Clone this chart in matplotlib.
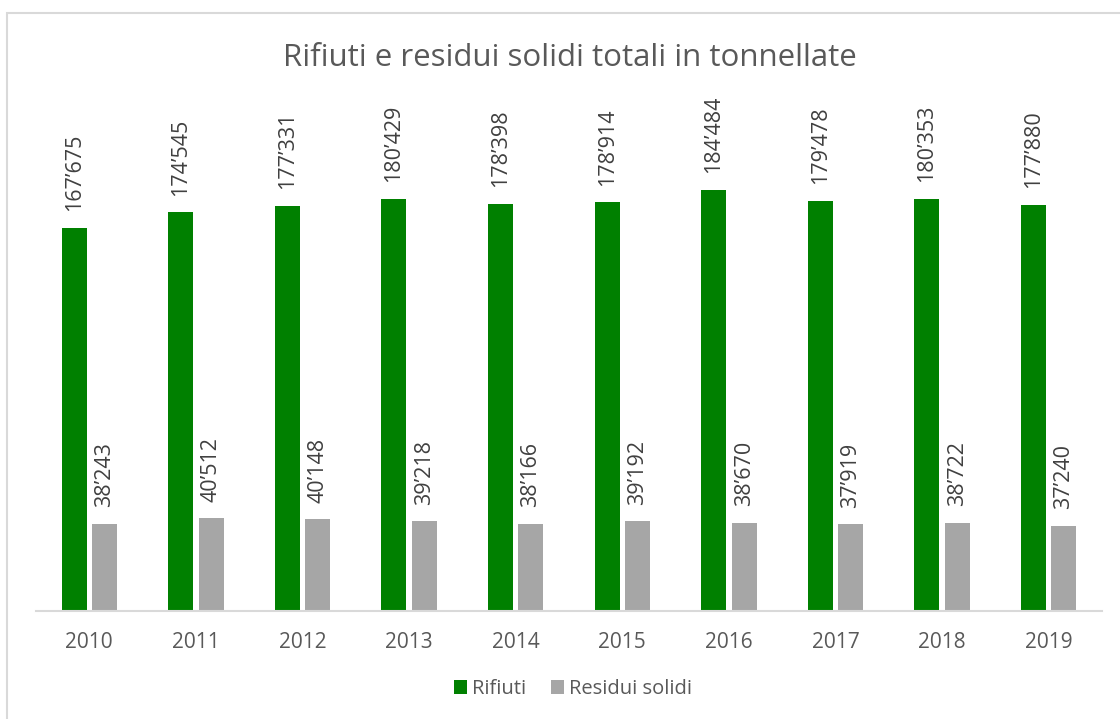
import matplotlib
matplotlib.use("Agg")
import matplotlib.pyplot as plt
from matplotlib.patches import Rectangle
import numpy as np

years = ["2010", "2011", "2012", "2013", "2014", "2015", "2016", "2017", "2018", "2019"]
rifiuti = [167675, 174545, 177331, 180429, 178398, 178914, 184484, 179478, 180353, 177880]
residui = [38243, 40512, 40148, 39218, 38166, 39192, 38670, 37919, 38722, 37240]

plt.rcParams['font.family'] = ['Open Sans', 'DejaVu Sans']

W, H = 1120, 719
fig = plt.figure(figsize=(W/100, H/100), dpi=100)
fig.patches.append(Rectangle((7/W, -0.05), 1.2, 1 - 13/H + 0.05, transform=fig.transFigure,
                             fill=False, edgecolor='#d9d9d9', linewidth=1.5))

ax = fig.add_axes([36/W, 1 - 611/H, (1102-36)/W, (611-100)/H])
x = np.arange(len(years))
off, bw = 0.143, 0.235
green = '#008000'
gray = '#a6a6a6'
b1 = ax.bar(x - off, rifiuti, bw, color=green, label='Rifiuti')
b2 = ax.bar(x + off, residui, bw, color=gray, label='Residui solidi')

def fmt(v):
    return f"{v:,}".replace(",", "\u2019")

for bars, vals in ((b1, rifiuti), (b2, residui)):
    for r, v in zip(bars, vals):
        ax.annotate(fmt(v), (r.get_x() + r.get_width()/2, r.get_height()),
                    xytext=(0, 12), textcoords='offset points', rotation=90,
                    ha='center', va='bottom', fontsize=15.5, color='#404040')

ax.set_xlim(-0.5, len(years) - 0.5)
ax.set_ylim(0, (611-100)/((611-228)/167675))
ax.set_xticks(x)
ax.set_xticklabels(years, fontsize=15, color='#595959')
ax.tick_params(axis='x', length=0, pad=15)
ax.set_yticks([])
for s in ('top', 'right', 'left'):
    ax.spines[s].set_visible(False)
ax.spines['bottom'].set_color('#d9d9d9')
ax.spines['bottom'].set_linewidth(1.5)

fig.text(570/W, 1 - 58/H, "Rifiuti e residui solidi totali in tonnellate", ha='center', va='center',
         fontsize=22.5, color='#595959')

leg = fig.legend(handles=[b1, b2], loc='center', bbox_to_anchor=(573/W, 1 - 689/H), ncol=2,
                 frameon=False, fontsize=14.5, handlelength=0.65, handleheight=0.65,
                 handletextpad=0.25, columnspacing=1.2)
for t in leg.get_texts():
    t.set_color('#595959')

fig.savefig("out.png", dpi=100)
